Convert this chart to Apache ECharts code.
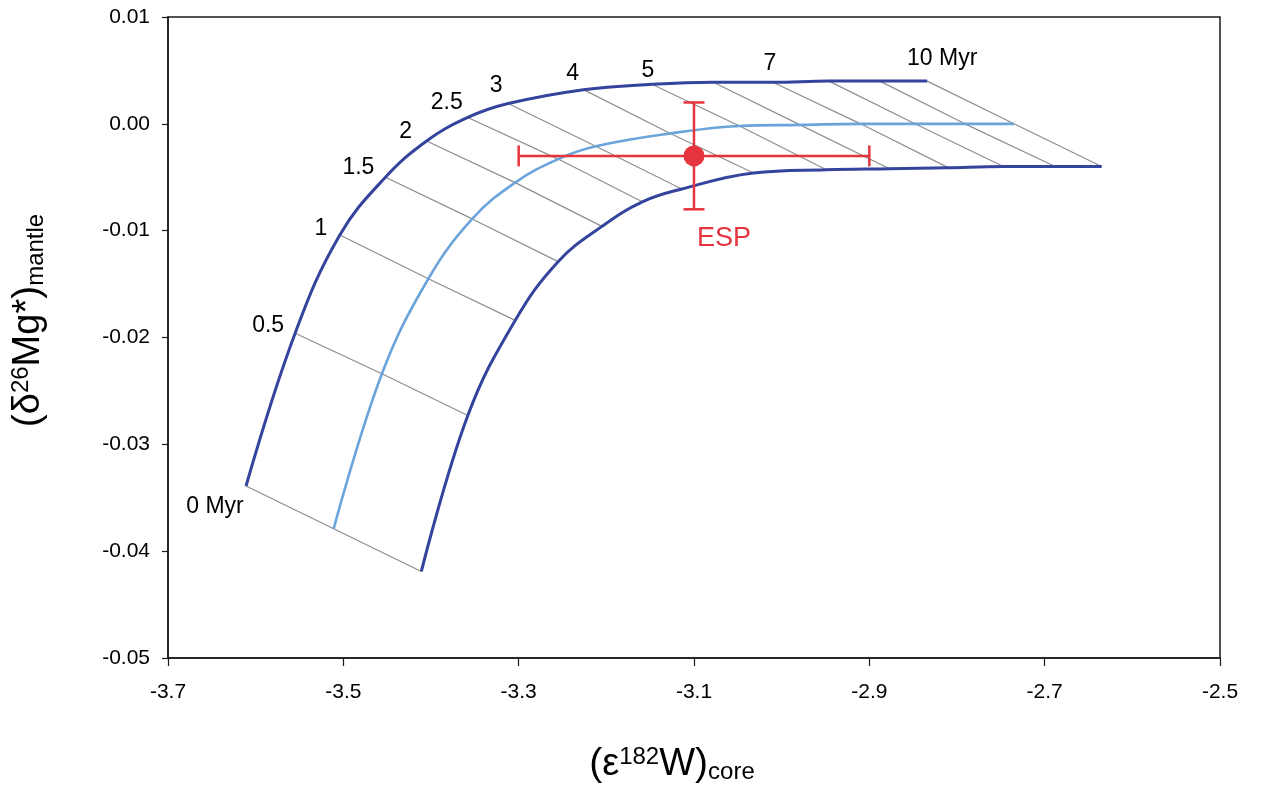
<!DOCTYPE html>
<html>
<head>
<meta charset="utf-8">
<script src="https://cdn.jsdelivr.net/npm/echarts@6/dist/echarts.min.js"></script>
<style>
html,body{margin:0;padding:0;background:#fff;}
#chart{width:1261px;height:787px;}
</style>
</head>
<body>
<div id="chart"></div>
<script>
// ---- data ----
var times = [0, 0.5, 1, 1.5, 2, 2.5, 3, 4, 5, 6, 7, 8, 9, 10];
var upperX = [-3.611, -3.555, -3.504, -3.452, -3.405, -3.358, -3.312, -3.226, -3.148, -3.078, -3.010, -2.946, -2.888, -2.834];
var upperY = [-0.0339, -0.0196, -0.0104, -0.0050, -0.0016, 0.0006, 0.0019, 0.0032, 0.0037, 0.0039, 0.0039, 0.0040, 0.0040, 0.0040];
var midX = [-3.511, -3.456, -3.403, -3.353, -3.304, -3.255, -3.212, -3.127, -3.048, -2.979, -2.910, -2.848, -2.791, -2.735];
var midY = [-0.0379, -0.0234, -0.0145, -0.0089, -0.0055, -0.0033, -0.0021, -0.0009, -0.0002, -0.0001, 0.0000, 0.0000, 0.0000, 0.0000];
var lowerX = [-3.411, -3.358, -3.304, -3.255, -3.205, -3.159, -3.114, -3.032, -2.949, -2.877, -2.810, -2.747, -2.688, -2.635];
var lowerY = [-0.0419, -0.0273, -0.0184, -0.0129, -0.0096, -0.0073, -0.0061, -0.0046, -0.0043, -0.0042, -0.0041, -0.0040, -0.0040, -0.0040];
var timeLabels = ['0 Myr', '0.5', '1', '1.5', '2', '2.5', '3', '4', '5', '', '7', '', '', '10 Myr'];

var espX = -3.10, espY = -0.003, espXErr = 0.2, espYErr = 0.005;
var espLabel = 'ESP';

var xTicks = [-3.7, -3.5, -3.3, -3.1, -2.9, -2.7, -2.5];
var yTicks = [0.01, 0.00, -0.01, -0.02, -0.03, -0.04, -0.05];

// ---- styling (label offsets in pixels) ----
var labelOffsets = [[-31, 21], [-27, -8], [-19, -6], [-27, -10], [-21, -9], [-21, -15], [-12, -18], [-11, -16], [-4, -14], [0, 0], [-3, -19], [0, 0], [0, 0], [15, -22]];

var FONT = '"Liberation Sans", Arial, Helvetica, sans-serif';
var DARK = '#34439c';
var LIGHT = '#6aa4da';
var GRAY = '#8e8e8e';
var RED = '#e5343d';

function zip(xs, ys) { return xs.map(function (x, i) { return [x, ys[i]]; }); }

var series = [];
// isochron gray lines
times.forEach(function (t, i) {
  series.push({
    type: 'line', silent: true, symbol: 'none', z: 1,
    lineStyle: { color: GRAY, width: 1.2 },
    data: [[upperX[i], upperY[i]], [midX[i], midY[i]], [lowerX[i], lowerY[i]]]
  });
});
// curves
series.push({ type: 'line', symbol: 'none', smooth: 0.4, z: 3,
  lineStyle: { color: DARK, width: 3 }, data: zip(upperX, upperY) });
series.push({ type: 'line', symbol: 'none', smooth: 0.4, z: 3,
  lineStyle: { color: LIGHT, width: 2.6 }, data: zip(midX, midY) });
series.push({ type: 'line', symbol: 'none', smooth: 0.4, z: 3,
  lineStyle: { color: DARK, width: 3 }, data: zip(lowerX, lowerY) });
// time labels
series.push({
  type: 'scatter', symbolSize: 0, z: 4, silent: true,
  itemStyle: { opacity: 1 },
  data: upperX.map(function (x, i) {
    return {
      value: [x, upperY[i]],
      label: { show: timeLabels[i] !== '', formatter: timeLabels[i], offset: labelOffsets[i] }
    };
  }),
  label: { show: true, position: 'inside', color: '#000', fontSize: 23, fontFamily: FONT, align: 'center', verticalAlign: 'middle' }
});
// ESP error bars
series.push({
  type: 'custom', z: 5, silent: true,
  data: [[espX, espY, espXErr, espYErr]],
  renderItem: function (params, api) {
    var l = api.coord([api.value(0) - api.value(2), api.value(1)]);
    var r = api.coord([api.value(0) + api.value(2), api.value(1)]);
    var t = api.coord([api.value(0), api.value(1) + api.value(3)]);
    var b = api.coord([api.value(0), api.value(1) - api.value(3)]);
    var cap = 10.5;
    var st = { stroke: RED, lineWidth: 2.5 };
    return {
      type: 'group',
      children: [
        { type: 'line', shape: { x1: l[0], y1: l[1], x2: r[0], y2: r[1] }, style: st },
        { type: 'line', shape: { x1: t[0], y1: t[1], x2: b[0], y2: b[1] }, style: st },
        { type: 'line', shape: { x1: l[0], y1: l[1] - cap, x2: l[0], y2: l[1] + cap }, style: st },
        { type: 'line', shape: { x1: r[0], y1: r[1] - cap, x2: r[0], y2: r[1] + cap }, style: st },
        { type: 'line', shape: { x1: t[0] - cap, y1: t[1], x2: t[0] + cap, y2: t[1] }, style: st },
        { type: 'line', shape: { x1: b[0] - cap, y1: b[1], x2: b[0] + cap, y2: b[1] }, style: st }
      ]
    };
  }
});
// ESP point
series.push({
  type: 'scatter', symbol: 'circle', symbolSize: 21, z: 6, silent: true,
  itemStyle: { color: RED, opacity: 1 },
  data: [[espX, espY]],
  label: { show: true, position: 'inside', formatter: espLabel, offset: [30, 83], color: RED, fontSize: 27, fontFamily: FONT }
});

var titleRich = {
  p: { fontSize: 39, fontFamily: FONT, color: '#000', verticalAlign: 'middle' },
  g: { fontSize: 38, fontFamily: FONT, color: '#000', verticalAlign: 'middle' },
  sup: { fontSize: 24, fontFamily: FONT, color: '#000', verticalAlign: 'top' },
  sub: { fontSize: 24, fontFamily: FONT, color: '#000', verticalAlign: 'bottom' }
};

var chart = echarts.init(document.getElementById('chart'), null, { renderer: 'canvas' });
chart.setOption({
  animation: false,
  backgroundColor: '#fff',
  grid: { left: 168, right: 41, top: 17, bottom: 129, show: true, borderColor: '#1a1a1a', borderWidth: 1.5,
    containLabel: false, outerBoundsMode: 'none' },
  xAxis: {
    type: 'value', min: -3.7, max: -2.5,
    splitLine: { show: false },
    axisLine: { show: true, onZero: false, lineStyle: { color: '#1a1a1a', width: 1.5 } },
    axisTick: { show: true, inside: false, length: 8, customValues: xTicks, lineStyle: { color: '#1a1a1a', width: 1.2 } },
    axisLabel: { customValues: xTicks, margin: 24, color: '#000', fontSize: 21, fontFamily: FONT,
      formatter: function (v) { return Number(v).toFixed(1); } },
    name: '{p|(}{g|ε}{sup|182}{g|W}{p|)}{sub|core}',
    nameLocation: 'middle', nameGap: 87,
    nameTextStyle: { fontFamily: FONT, color: '#000', padding: [0, 44, 0, 0], rich: titleRich }
  },
  yAxis: {
    type: 'value', min: -0.05, max: 0.01,
    splitLine: { show: false },
    axisLine: { show: true, onZero: false, lineStyle: { color: '#1a1a1a', width: 1.5 } },
    axisTick: { show: true, inside: false, length: 6, customValues: yTicks, lineStyle: { color: '#1a1a1a', width: 1.2 } },
    axisLabel: { customValues: yTicks, margin: 18, color: '#000', fontSize: 21, fontFamily: FONT,
      formatter: function (v) { var s = Number(v).toFixed(2); return s === '-0.00' ? '0.00' : s; } },
    name: '{p|(}{g|δ}{sup|26}{g|Mg*}{p|)}{sub|mantle}',
    nameLocation: 'middle', nameRotate: 90, nameGap: 120,
    nameTextStyle: { fontFamily: FONT, color: '#000', padding: [0, 0, 0, 34], rich: titleRich }
  },
  series: series
});
</script>
</body>
</html>
